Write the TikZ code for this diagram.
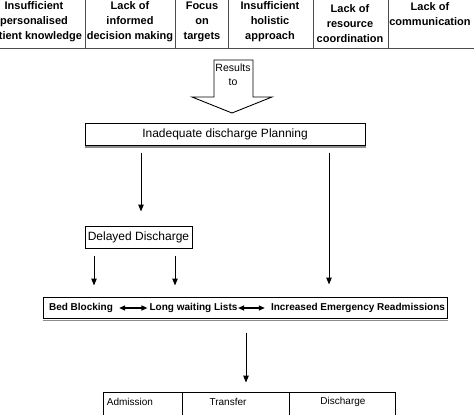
\documentclass[tikz,border=0pt]{standalone}
\usepackage{fontspec}
\setmainfont{Liberation Sans}
\usetikzlibrary{arrows.meta}
\begin{document}
\begin{tikzpicture}[x=1pt,y=-1pt,
  toptxt/.style={font=\fontsize{11}{15}\selectfont\bfseries, align=center, inner sep=0pt},
  midtxt/.style={font=\fontsize{12}{14}\selectfont, inner sep=0pt},
  rowtxt/.style={font=\fontsize{10}{12}\selectfont\bfseries, inner sep=0pt},
  tbltxt/.style={font=\fontsize{10}{12}\selectfont, inner sep=0pt},
  box/.style={draw, line width=1pt, inner sep=0pt},
  cell/.style={draw, line width=0.9pt, inner sep=0pt, minimum height=30pt},
  grid/.style={draw=black!70, line width=0.9pt},
  arr/.style={line width=1pt, -{Triangle[width=5.5pt,length=7pt]}},
  dbl/.style={line width=1.2pt, {Triangle[width=5pt,length=6pt]}-{Triangle[width=5pt,length=6pt]}},
  shade/.style={draw=black!45, line width=1.5pt}
]
\clip (0,0) rectangle (474,415);
\fill[white] (0,0) rectangle (474,415);

% top row grid
\draw[grid] (-5,48) -- (480,48);
\foreach \xx in {85,175,228,313,388} \draw[grid] (\xx,-5) -- (\xx,48);

\node[toptxt] (t1) at (34,22) {Insufficient\\personalised\\patient knowledge};
\node[toptxt] (t2) at (130,22) {Lack of\\informed\\decision making};
\node[toptxt] (t3) at (202,22) {Focus\\on\\targets};
\node[toptxt] (t4) at (270,22) {Insufficient\\holistic\\approach};
\node[toptxt] (t5) at (350,23.5) {Lack of\\resource\\coordination};
\node[toptxt] (t6) at (430,14.5) {Lack of\\communication};

% block arrow "Results to"
\draw[line width=0.9pt, fill=white] (214,60) -- (253,60) -- (253,97) -- (272,97) -- (232,113) -- (192,97) -- (214,97) -- cycle;
\node[font=\fontsize{10.5}{14}\selectfont, align=center, inner sep=0pt] (res) at (233,75) {Results\\to};

% main boxes
\node[box, minimum width=280pt, minimum height=22pt] (inad) at (225,134) {};
\draw[shade] ([yshift=-1.5pt]inad.south west) -- ([yshift=-1.5pt]inad.south east);
\node[midtxt] (inadt) at (inad.center) {Inadequate discharge Planning};

\node[box, minimum width=107pt, minimum height=22pt] (dd) at (138.5,237) {};
\node[midtxt] (ddt) at (dd.center) {Delayed Discharge};

\node[box, minimum width=404pt, minimum height=21pt] (row) at (245,307.5) {};
\draw[shade] ([yshift=-2pt]row.south west) -- ([yshift=-2pt]row.south east);
\node[rowtxt] (bb) at (81,308) {Bed Blocking};
\node[rowtxt] (lw) at (193.5,308) {Long waiting Lists};
\node[rowtxt] (ie) at (358,308) {Increased Emergency Readmissions};
\draw[dbl, shorten <=6pt, shorten >=2pt] (bb.east) -- (lw.west);
\draw[dbl, shorten <=0.5pt, shorten >=6pt] (lw.east) -- (ie.west);

% bottom table
\node[cell, minimum width=79pt] (c1) at (142.5,407) {};
\node[cell, minimum width=107pt] (c2) at (235.5,407) {};
\node[cell, minimum width=106pt] (c3) at (342,407) {};
\node[tbltxt] (adm) at (130,402) {Admission};
\node[tbltxt] (trf) at (228,402) {Transfer};
\node[tbltxt] (dis) at (343,402) {Discharge};

% connectors
\coordinate (xa) at (141,0);
\coordinate (xb) at (329,0);
\coordinate (xc) at (94,0);
\coordinate (xd) at (175,0);
\coordinate (xe) at (246,0);
\draw[arr, shorten <=7pt, shorten >=14pt] (inad.south -| xa) -- (dd.north -| xa);
\draw[arr, shorten <=7pt, shorten >=12pt] (inad.south -| xb) -- (row.north -| xb);
\draw[arr, shorten <=7pt, shorten >=11pt] (dd.south -| xc) -- (row.north -| xc);
\draw[arr, shorten <=7pt, shorten >=11pt] (dd.south -| xd) -- (row.north -| xd);
\draw[arr, shorten <=14pt, shorten >=9pt] (row.south -| xe) -- (c2.north -| xe);
\end{tikzpicture}
\end{document}
